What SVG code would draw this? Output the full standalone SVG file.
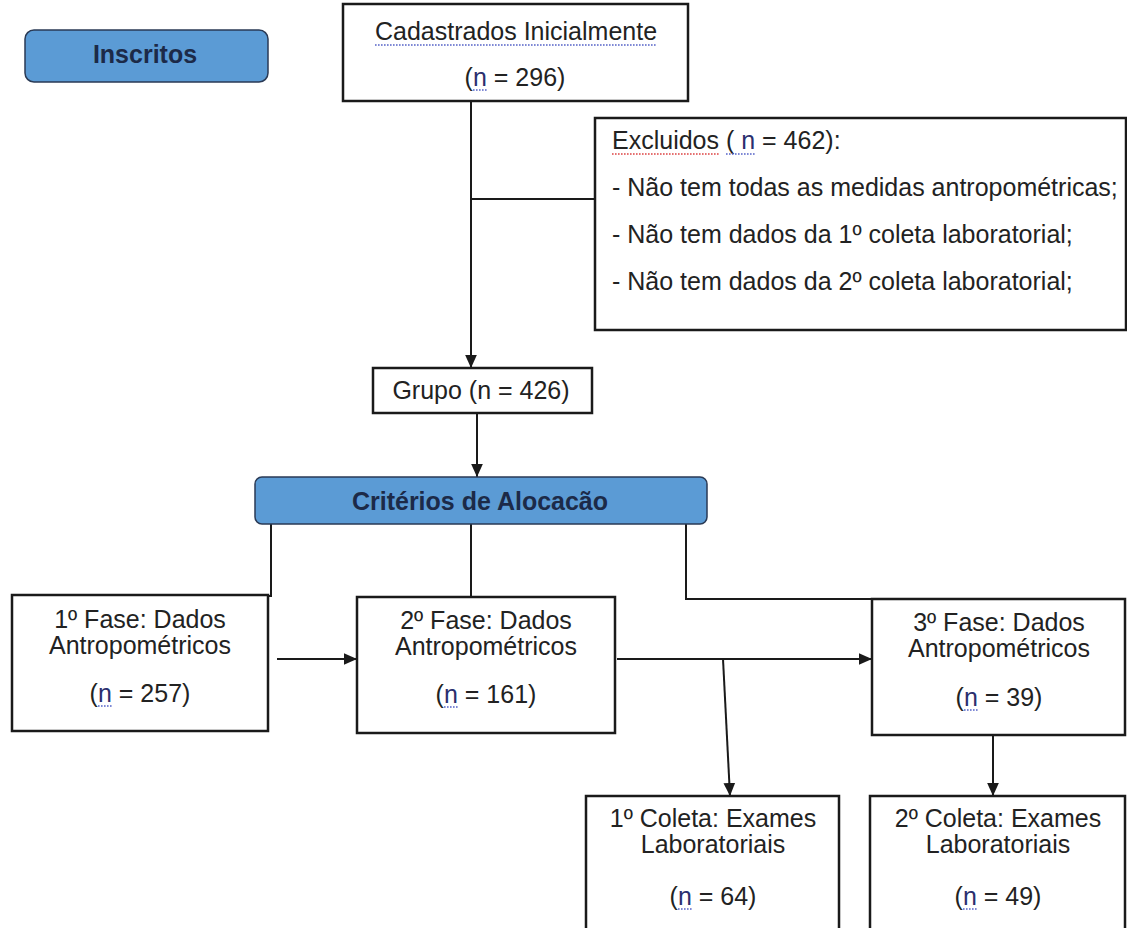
<svg xmlns="http://www.w3.org/2000/svg" width="1127" height="928" viewBox="0 0 1127 928">
<defs>
<style>
.box{fill:#ffffff;stroke:#1a1a1a;stroke-width:2.5}
.blue{fill:#5b9bd5;stroke:#2a3a55;stroke-width:1.5}
.t{font-family:"Liberation Sans",Arial,sans-serif;font-size:25px;fill:#222;text-anchor:middle}
.tl{font-family:"Liberation Sans",Arial,sans-serif;font-size:25px;fill:#222}
.b{font-family:"Liberation Sans",Arial,sans-serif;font-size:25px;font-weight:bold;fill:#1c2a48;text-anchor:middle}
.n{fill:#2b2f6e}
.ln{fill:none;stroke:#1a1a1a;stroke-width:2}
.sq{fill:none;stroke-width:1.3;stroke-dasharray:1.6 1.4}
.sb{stroke:#5563c8}
.sr{stroke:#dd4444}
</style>
<marker id="ah" viewBox="0 0 10 10" refX="10" refY="5" markerWidth="13" markerHeight="13" markerUnits="userSpaceOnUse" orient="auto">
<path d="M0,0.5 L10,5 L0,9.5 z" fill="#1a1a1a"/>
</marker>
</defs>
<rect width="1127" height="928" fill="#ffffff"/>

<g id="connectors">
<path class="ln" d="M471,101 V368" marker-end="url(#ah)"/>
<path class="ln" d="M471,199 H595"/>
<path class="ln" d="M477,413 V477" marker-end="url(#ah)"/>
<path class="ln" d="M271,524 V596 H262"/>
<path class="ln" d="M471,524 V597"/>
<path class="ln" d="M686,524 V599 H872"/>
<path class="ln" d="M277,659 H357" marker-end="url(#ah)"/>
<path class="ln" d="M617,659 H872" marker-end="url(#ah)"/>
<path class="ln" d="M723,659 L730,796" marker-end="url(#ah)"/>
<path class="ln" d="M993,735 V796" marker-end="url(#ah)"/>
</g>

<g id="inscritos">
<rect class="blue" x="25" y="30" width="243" height="52" rx="9"/>
<text class="b" x="145" y="63">Inscritos</text>
</g>

<g id="cadastrados">
<rect class="box" x="343" y="4" width="345" height="97"/>
<text class="t" x="516" y="40">Cadastrados Inicialmente</text>
<text class="t" x="515" y="86">(<tspan class="n">n</tspan> = 296)</text>
<path class="sq sb" d="M375,45 H657"/>
<path class="sq sb" d="M473,90 H487"/>
</g>

<g id="excluidos">
<rect class="box" x="595" y="118" width="531" height="212"/>
<text class="tl" x="612" y="149">Excluidos ( <tspan class="n">n</tspan> = 462):</text>
<text class="tl" x="612" y="196">- Não tem todas as medidas antropométricas;</text>
<text class="tl" x="612" y="243">- Não tem dados da 1º coleta laboratorial;</text>
<text class="tl" x="612" y="290">- Não tem dados da 2º coleta laboratorial;</text>
<path class="sq sr" d="M612,154 H719"/>
<path class="sq sb" d="M726,154 H755"/>
</g>

<g id="grupo">
<rect class="box" x="373" y="368" width="219" height="45"/>
<text class="t" x="481" y="399">Grupo (n = 426)</text>
</g>

<g id="criterios">
<rect class="blue" x="255" y="477" width="452" height="47" rx="7"/>
<text class="b" x="480" y="510">Critérios de Alocacão</text>
</g>

<g id="fase1">
<rect class="box" x="12" y="595" width="256" height="136"/>
<text class="t" x="140" y="628">1º Fase: Dados</text>
<text class="t" x="140" y="654">Antropométricos</text>
<text class="t" x="140" y="702">(<tspan class="n">n</tspan> = 257)</text>
<path class="sq sb" d="M98,706 H112"/>
</g>

<g id="fase2">
<rect class="box" x="357" y="597" width="258" height="136"/>
<text class="t" x="486" y="629">2º Fase: Dados</text>
<text class="t" x="486" y="655">Antropométricos</text>
<text class="t" x="486" y="703">(<tspan class="n">n</tspan> = 161)</text>
<path class="sq sb" d="M444,707 H458"/>
</g>

<g id="fase3">
<rect class="box" x="872" y="599" width="253" height="136"/>
<text class="t" x="999" y="631">3º Fase: Dados</text>
<text class="t" x="999" y="657">Antropométricos</text>
<text class="t" x="999" y="706">(<tspan class="n">n</tspan> = 39)</text>
<path class="sq sb" d="M964,710 H978"/>
</g>

<g id="coleta1">
<rect class="box" x="586" y="796" width="253" height="145"/>
<text class="t" x="713" y="827">1º Coleta: Exames</text>
<text class="t" x="713" y="853">Laboratoriais</text>
<text class="t" x="713" y="905">(<tspan class="n">n</tspan> = 64)</text>
<path class="sq sb" d="M678,909 H692"/>
</g>

<g id="coleta2">
<rect class="box" x="870" y="796" width="255" height="145"/>
<text class="t" x="998" y="827">2º Coleta: Exames</text>
<text class="t" x="998" y="853">Laboratoriais</text>
<text class="t" x="998" y="905">(<tspan class="n">n</tspan> = 49)</text>
<path class="sq sb" d="M963,909 H977"/>
</g>
</svg>
